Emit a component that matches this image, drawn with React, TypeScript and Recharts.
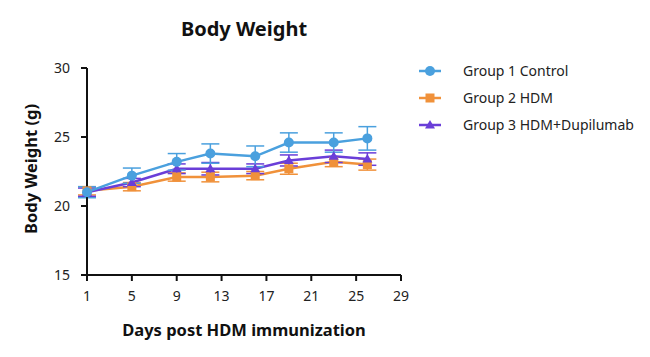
import React from 'react';
import { LineChart, Line, XAxis, YAxis, ErrorBar, Customized } from 'recharts';

const days = [1, 5, 9, 12, 16, 19, 23, 26];
const group1 = [21.0, 22.2, 23.2, 23.8, 23.6, 24.6, 24.6, 24.9];
const group1Err = [0.4, 0.55, 0.6, 0.7, 0.75, 0.7, 0.7, 0.85];
const group2 = [21.1, 21.4, 22.1, 22.1, 22.2, 22.7, 23.2, 23.0];
const group2Err = [0.3, 0.3, 0.3, 0.35, 0.3, 0.4, 0.35, 0.4];
const group3 = [21.0, 21.7, 22.7, 22.7, 22.7, 23.3, 23.6, 23.4];
const group3Err = [0.3, 0.3, 0.35, 0.45, 0.35, 0.4, 0.45, 0.45];

const xTicks = [1, 5, 9, 13, 17, 21, 25, 29];
const yTicks = [15, 20, 25, 30];

const BLUE = '#4aa0de';
const ORANGE = '#f0913a';
const PURPLE = '#6a3ed8';
const FONT = '"Noto Sans", sans-serif';

const data = days.map((d, i) => ({
  day: d,
  g1: group1[i],
  g1e: group1Err[i],
  g2: group2[i],
  g2e: group2Err[i],
  g3: group3[i],
  g3e: group3Err[i],
}));

const legendItems = [
  { name: 'Group 1 Control', color: BLUE, shape: 'circle' },
  { name: 'Group 2 HDM', color: ORANGE, shape: 'square' },
  { name: 'Group 3 HDM+Dupilumab', color: PURPLE, shape: 'triangle' },
];

const Marker = ({ shape, cx, cy, color }: { shape: string; cx: number; cy: number; color: string }) => {
  if (shape === 'circle') return <circle cx={cx} cy={cy} r={5} fill={color} />;
  if (shape === 'square') return <rect x={cx - 4.5} y={cy - 4.5} width={9} height={9} fill={color} />;
  return <polygon points={`${cx},${cy - 5} ${cx + 5},${cy + 3.5} ${cx - 5},${cy + 3.5}`} fill={color} />;
};

const dotFor = (shape: string, color: string) => (props: any) => {
  const { cx, cy, index } = props;
  if (cx == null || cy == null) return <g key={index} />;
  return <Marker key={index} shape={shape} cx={cx} cy={cy} color={color} />;
};

const ChartLegend = () => (
  <div style={{ position: 'absolute', left: 418, top: 57, fontFamily: FONT, fontSize: 14, color: '#222' }}>
    {legendItems.map((it) => (
      <div key={it.name} style={{ display: 'flex', alignItems: 'center', height: 27 }}>
        <svg width={24} height={12} style={{ marginRight: 21 }}>
          <line x1={1} y1={6} x2={23} y2={6} stroke={it.color} strokeWidth={2.5} />
          <Marker shape={it.shape} cx={12} cy={6} color={it.color} />
        </svg>
        <span>{it.name}</span>
      </div>
    ))}
  </div>
);

const Texts = () => (
  <g fontFamily={FONT} fill="#111">
    <text x={244} y={36} textAnchor="middle" fontSize={20} fontWeight={700}>Body Weight</text>
    <text x={244} y={336} textAnchor="middle" fontSize={16.5} fontWeight={700}>Days post HDM immunization</text>
    <text x={37} y={169} textAnchor="middle" fontSize={16.5} fontWeight={700} transform="rotate(-90 37 169)">
      Body Weight (g)
    </text>
  </g>
);

const App = () => {
  const tick = { fontSize: 14, fill: '#222', fontFamily: FONT };
  const axisLine = { stroke: '#111', strokeWidth: 2 };
  return (
    <div style={{ position: 'absolute', left: 0, top: 0, width: 650, height: 357, background: '#fff' }}>
      <LineChart width={650} height={357} data={data} margin={{ top: 68, right: 249, left: 0, bottom: 0 }}>
        <XAxis
          dataKey="day"
          type="number"
          domain={[1, 29]}
          ticks={xTicks}
          tick={tick}
          axisLine={axisLine}
          tickLine={{ stroke: '#111', strokeWidth: 2 }}
          tickSize={6}
          tickMargin={10}
          height={82}
        />
        <YAxis
          type="number"
          domain={[15, 30]}
          ticks={yTicks}
          tick={tick}
          axisLine={axisLine}
          tickLine={{ stroke: '#111', strokeWidth: 2 }}
          tickSize={6}
          tickMargin={11}
          width={87}
        />
        <Line
          dataKey="g2"
          stroke={ORANGE}
          strokeWidth={2.5}
          dot={dotFor('square', ORANGE)}
          isAnimationActive={false}
        >
          <ErrorBar dataKey="g2e" width={9} stroke={ORANGE} strokeWidth={1.5} direction="y" />
        </Line>
        <Line
          dataKey="g3"
          stroke={PURPLE}
          strokeWidth={2.5}
          dot={dotFor('triangle', PURPLE)}
          isAnimationActive={false}
        >
          <ErrorBar dataKey="g3e" width={9} stroke={PURPLE} strokeWidth={1.5} direction="y" />
        </Line>
        <Line
          dataKey="g1"
          stroke={BLUE}
          strokeWidth={2.5}
          dot={dotFor('circle', BLUE)}
          isAnimationActive={false}
        >
          <ErrorBar dataKey="g1e" width={9} stroke={BLUE} strokeWidth={1.5} direction="y" />
        </Line>
        <Customized component={Texts} />
      </LineChart>
      <ChartLegend />
    </div>
  );
};

export default App;
